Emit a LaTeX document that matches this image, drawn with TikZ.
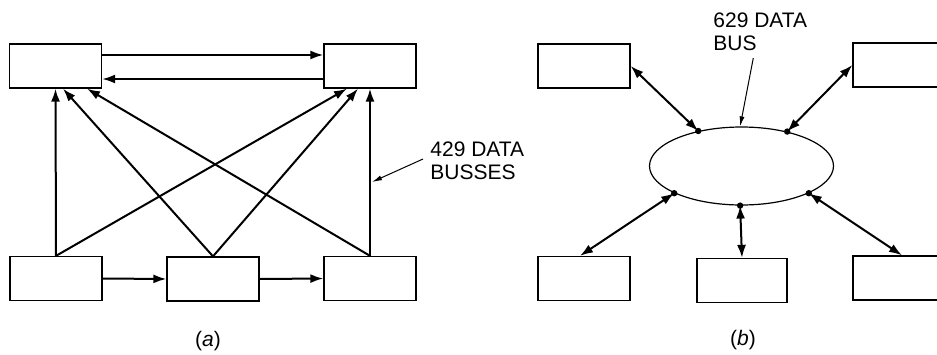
\documentclass[tikz,border=0pt]{standalone}
\usepackage{fontspec}
\setmainfont{Liberation Sans}
\usetikzlibrary{arrows.meta,shapes.geometric}
\begin{document}
\begin{tikzpicture}[x=0.5pt,y=-0.5pt,
  box/.style={draw,line width=0.65pt,minimum width=46pt,minimum height=22pt,inner sep=0pt},
  edgebox/.style={box,minimum width=60pt},
  bus/.style={line width=1pt,-{Latex[length=6.5pt,width=4.5pt]}},
  dbus/.style={line width=1pt,{Latex[length=6.5pt,width=4.5pt]}-{Latex[length=6.5pt,width=4.5pt]}},
  pointer/.style={line width=0.5pt,-{Latex[length=5pt,width=2.5pt]}},
  lbl/.style={inner sep=0pt,align=left,font=\fontsize{10.5}{11.5}\selectfont},
  captext/.style={inner sep=0pt,font=\fontsize{10.5}{12}\selectfont},
  ]
\useasboundingbox (0,0) rectangle (937,354);
\clip (0,0) rectangle (937,354);
% ---------- (a) ----------
\node[box] (TL) at (55.5,66) {};
\node[box] (TR) at (370,66) {};
\node[box] (BL) at (56,278.5) {};
\node[box] (BM) at (213,279) {};
\node[box] (BR) at (370,278.5) {};
\draw[bus] ([yshift=5.5pt]TL.east) -- ([yshift=5.5pt]TR.west);
\draw[bus] ([yshift=-6.5pt]TR.west) -- ([yshift=-6.5pt]TL.east);
\draw[bus] (BL.east) -- (BM.west);
\draw[bus] (BM.east) -- (BR.west);
\draw[bus] (BL.north) -- (TL.south);
\draw[bus] (BL.north) -- ([xshift=-11.5pt]TR.south);
\draw[bus] (BM.north) -- ([xshift=3.75pt]TL.south);
\draw[bus] (BM.north) -- ([xshift=-6pt]TR.south);
\draw[bus] (BR.north) -- ([xshift=15.75pt]TL.south);
\draw[bus] (BR.north) -- (TR.south);
\coordinate (p1) at (372,182);
\node[lbl,anchor=west] (lab1) at (430,160.5) {429 DATA\\BUSSES};
\draw[pointer] ([xshift=-3.5pt,yshift=0.75pt]lab1.west) -- (p1);
\node[captext] (capa) at (208,341) {(\textit{a})};
% ---------- (b) ----------
\node[box] (TLb) at (584,66) {};
\node[edgebox] (TRb) at (913,65) {};
\node[box] (BLb) at (584,278.5) {};
\node[box,minimum width=45pt] (BMb) at (742,280.5) {};
\node[edgebox] (BRb) at (913,278) {};
\node[draw,ellipse,line width=0.6pt,minimum width=92pt,minimum height=39pt,inner sep=0pt] (E) at (741.5,166) {};
\coordinate (d1) at (E.141);
\coordinate (d2) at (E.37);
\coordinate (d3) at (E.202.6);
\coordinate (d4) at (E.268);
\coordinate (d5) at (E.338);
\foreach \d in {d1,d2,d3,d4,d5} \fill (\d) circle (1.6pt);
\draw[dbus] (TLb.east) -- (d1);
\draw[dbus] (TRb.west) -- (d2);
\draw[dbus] ([xshift=-2pt]BLb.north) -- (d3);
\draw[dbus] (BMb.north) -- (d4);
\draw[dbus] ([xshift=-5.5pt]BRb.north) -- (d5);
\node[lbl,anchor=west] (lab2) at (713,31.75) {629 DATA\\BUS};
\draw[pointer] ([xshift=-3.5pt,yshift=-3.5pt]lab2.south) -- (E.92);
\node[captext] (capb) at (743,340) {(\textit{b})};
\end{tikzpicture}
\end{document}
